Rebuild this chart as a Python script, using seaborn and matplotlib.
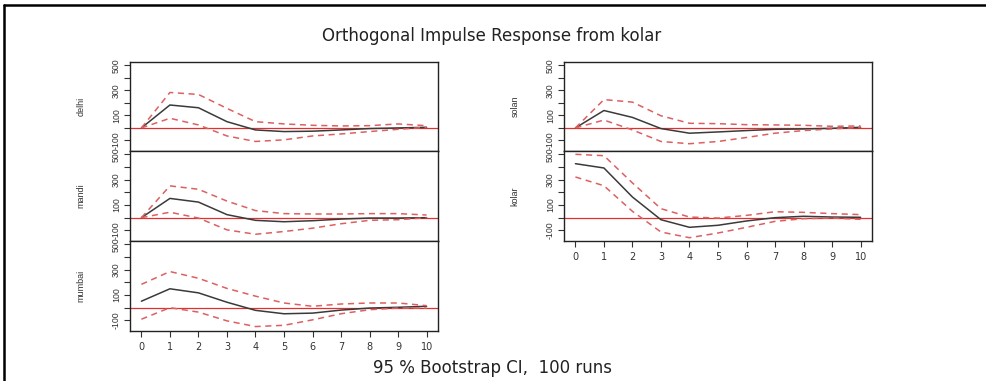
import numpy as np
import pandas as pd
import matplotlib
matplotlib.use("Agg")
import matplotlib.pyplot as plt
import seaborn as sns

sns.set_style("white")
plt.rcParams['font.family'] = ['Liberation Sans', 'DejaVu Sans']

# horizons
steps = list(range(11))

# impulse responses (point estimate, upper and lower bootstrap band)
delhi = [0, 183, 161, 50, -16, -29, -26, -16, -5, 0, 5]
delhi_upper = [0, 283, 267, 156, 50, 32, 21, 16, 18, 32, 18]
delhi_lower = [0, 77, 24, -64, -108, -95, -64, -48, -29, -11, 5]

mandi = [0, 152, 123, 24, -21, -32, -24, -11, -3, -3, 0]
mandi_upper = [0, 251, 224, 131, 56, 32, 29, 29, 32, 32, 21]
mandi_lower = [0, 43, -3, -96, -131, -109, -83, -48, -21, -16, 0]

mumbai = [51, 149, 117, 43, -21, -48, -43, -19, -3, 3, 11]
mumbai_upper = [184, 285, 232, 152, 91, 37, 11, 29, 37, 37, 16]
mumbai_lower = [-91, 0, -35, -104, -149, -139, -96, -48, -16, -3, -3]

solan = [0, 139, 84, -5, -42, -32, -21, -11, -8, -3, 5]
solan_upper = [0, 226, 206, 97, 37, 34, 26, 24, 21, 13, 16]
solan_lower = [0, 63, -16, -108, -126, -108, -76, -42, -21, -8, 5]

kolar = [426, 392, 163, -16, -76, -60, -26, 0, 11, 5, 3]
kolar_upper = [500, 489, 274, 71, 5, -3, 18, 47, 42, 32, 24]
kolar_lower = [321, 252, 50, -113, -158, -121, -76, -29, -8, -3, -13]

panels = [
    ("delhi", delhi, delhi_upper, delhi_lower),
    ("mandi", mandi, mandi_upper, mandi_lower),
    ("mumbai", mumbai, mumbai_upper, mumbai_lower),
    ("solan", solan, solan_upper, solan_lower),
    ("kolar", kolar, kolar_upper, kolar_lower),
]

yticks = [-100, 0, 100, 200, 300, 400, 500]
ytick_labels = ["-100", "", "100", "", "300", "", "500"]

W, H = 987, 381
fig = plt.figure(figsize=(W / 100, H / 100), dpi=100)

# axes boxes in pixel coords (left, top, right, bottom)
boxes = [
    (130, 62, 438, 151),
    (130, 151, 438, 241),
    (130, 241, 438, 331),
    (564, 62, 872, 151),
    (564, 151, 872, 241),
]
bottom_panels = {"mumbai", "kolar"}
narrow = ['Liberation Sans Narrow', 'Liberation Sans']

for (name, mid, up, lo), (x0, y0, x1, y1) in zip(panels, boxes):
    ax = fig.add_axes([x0 / W, 1 - y1 / H, (x1 - x0) / W, (y1 - y0) / H])
    df = pd.DataFrame({"h": steps, "mid": mid, "up": up, "lo": lo})
    ax.axhline(0, color="#e03030", lw=0.9, zorder=1)
    sns.lineplot(data=df, x="h", y="mid", ax=ax, color="#3a3a3a", lw=1.1)
    for col in ["up", "lo"]:
        sns.lineplot(data=df, x="h", y=col, ax=ax, color="#dd6060",
                     lw=1.1, linestyle=(0, (4, 3)))
    ax.set_xlim(-0.4, 10.4)
    ax.set_ylim(-184, 526)
    ax.set_yticks(yticks)
    ax.set_yticklabels(ytick_labels, rotation=90, va="center",
                       family=narrow, fontsize=6.3, color="#333333")
    ax.tick_params(axis="y", direction="out", length=4, width=0.8,
                   left=True, pad=2.5, color="#333333")
    if name in bottom_panels:
        ax.set_xticks(steps)
        ax.set_xticklabels([str(s) for s in steps], fontsize=7,
                           family=['DejaVu Sans'], color="#333333")
        ax.tick_params(axis="x", direction="out", length=4, width=0.8,
                       bottom=True, pad=4, color="#333333")
    else:
        ax.set_xticks([])
    ax.set_xlabel("")
    ax.set_ylabel(name, fontsize=6.5, color="#333333", family=narrow,
                  labelpad=19)
    for s in ax.spines.values():
        s.set_color("#222222")
        s.set_linewidth(1.0)

fig.text(492 / W, 1 - 36 / H, "Orthogonal Impulse Response from kolar",
         ha="center", va="center", fontsize=12, color="#222222",
         family=['DejaVu Sans'])
fig.text(493 / W, 1 - 368 / H, "95 % Bootstrap CI,  100 runs",
         ha="center", va="center", fontsize=12, color="#222222",
         family=['DejaVu Sans'])

# screenshot frame (top and left edges)
fig.add_artist(plt.Line2D([4 / W, 1], [1 - 5 / H, 1 - 5 / H], color="black", lw=1.8))
fig.add_artist(plt.Line2D([4 / W, 4 / W], [0, 1 - 5 / H], color="black", lw=1.8))

fig.savefig("out.png", dpi=100)
